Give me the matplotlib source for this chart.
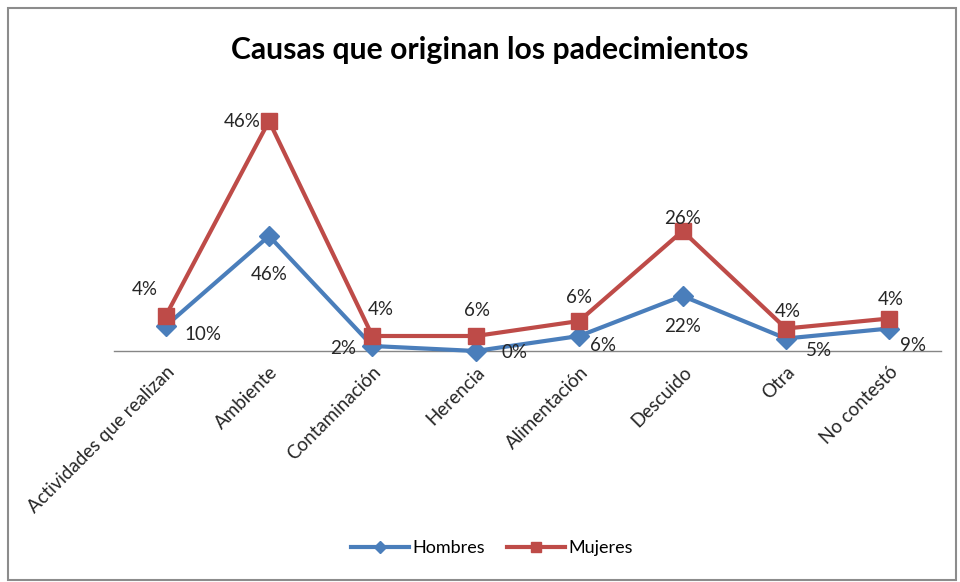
import matplotlib.pyplot as plt
import numpy as np
from matplotlib.patches import Rectangle

categorias = ['Actividades que realizan', 'Ambiente', 'Contaminación', 'Herencia',
              'Alimentación', 'Descuido', 'Otra', 'No contestó']
hombres = [10, 46, 2, 0, 6, 22, 5, 9]
mujeres = [4, 46, 4, 6, 6, 26, 4, 4]

# offsets of the data labels in points (dx, dy)
off_h = [(27, -6), (0, -28), (-21, -2), (28, -1), (17, -7), (0, -22), (24, -9), (17, -12)]
off_m = [(-15, 19), (-19, 0), (6, 19), (1, 18), (0, 17), (0, 9), (1, 12), (1, 14)]

plt.rcParams['font.family'] = ['Lato', 'DejaVu Sans']

x = np.arange(len(categorias))
apilado = np.array(hombres) + np.array(mujeres)

fig = plt.figure(figsize=(9.6, 5.82), dpi=100)
ax = fig.add_axes([114 / 960, 1 - 351 / 582, (941 - 114) / 960, 250 / 582])

azul = '#4A7EBB'
rojo = '#BE4B48'
ax.plot(x, hombres, color=azul, lw=3, marker='D', ms=10, mfc=azul, mec=azul,
        label='Hombres', clip_on=False, zorder=3)
ax.plot(x, apilado, color=rojo, lw=3, marker='s', ms=12, mfc=rojo, mec=rojo,
        label='Mujeres', clip_on=False, zorder=4)

for i in range(len(x)):
    ax.annotate(f'{hombres[i]}%', (x[i], hombres[i]), xytext=off_h[i],
                textcoords='offset points', ha='center', va='center', fontsize=13.5,
                color='#262626', zorder=5)
    ax.annotate(f'{mujeres[i]}%', (x[i], apilado[i]), xytext=off_m[i],
                textcoords='offset points', ha='center', va='center', fontsize=13.5,
                color='#262626', zorder=5)

ax.set_xlim(-0.5, len(x) - 0.5)
ax.set_ylim(0, 100)
for s in ['top', 'right', 'left']:
    ax.spines[s].set_visible(False)
ax.spines['bottom'].set_color('#868686')
ax.spines['bottom'].set_linewidth(1)
ax.set_yticks([])
ax.set_xticks(x)
ax.set_xticklabels(categorias, rotation=45, ha='right', rotation_mode='anchor',
                   fontsize=13.5, color='#262626')
ax.tick_params(axis='x', length=0, pad=9)

fig.text(490 / 960, 1 - 50 / 582, 'Causas que originan los padecimientos',
         ha='center', va='center', fontsize=21.7, fontweight='bold', color='#000000')

leg = fig.legend(loc='center', bbox_to_anchor=(492 / 960, 1 - 548 / 582), ncol=2,
                 frameon=False, fontsize=13, handlelength=3.2, columnspacing=1.2,
                 handletextpad=0.2, markerscale=0.6)

fig.patches.append(Rectangle((8 / 960, 2 / 582), 948 / 960, 572 / 582,
                             transform=fig.transFigure, fill=False,
                             edgecolor='#8C8C8C', lw=1.5))

fig.savefig('out.png', dpi=100)
